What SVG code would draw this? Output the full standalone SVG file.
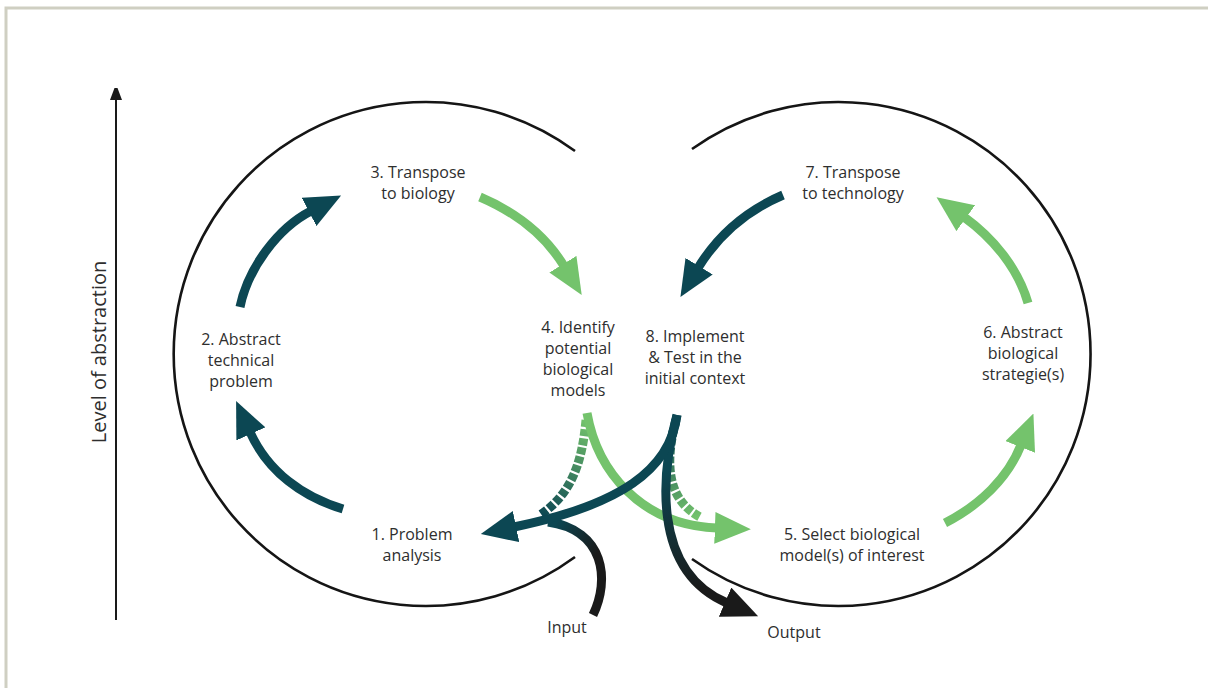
<svg xmlns="http://www.w3.org/2000/svg" width="1208" height="688" viewBox="0 0 1208 688">
<style>
.lbl{font-family:"Open Sans","Liberation Sans",sans-serif;font-size:16px;fill:#2e2e2e;text-anchor:middle}
.ring{fill:none;stroke:#151515;stroke-width:2.6}
.fl{fill:none;stroke-width:9;stroke-linecap:butt}
.teal{stroke:#0c4753}
.green{stroke:#74c36c}
.dash{stroke-dasharray:7 2.2}
</style>
<defs>
<marker id="hTeal" markerUnits="userSpaceOnUse" markerWidth="36" markerHeight="32" viewBox="0 0 34 30" refX="2" refY="15" orient="auto"><path d="M0,0 L34,15 L0,30 Z" fill="#0c4753"/></marker>
<marker id="hGreen" markerUnits="userSpaceOnUse" markerWidth="36" markerHeight="32" viewBox="0 0 34 30" refX="2" refY="15" orient="auto"><path d="M0,0 L34,15 L0,30 Z" fill="#74c36c"/></marker>
<marker id="hBlack" markerUnits="userSpaceOnUse" markerWidth="36" markerHeight="32" viewBox="0 0 34 30" refX="2" refY="15" orient="auto"><path d="M0,0 L34,15 L0,30 Z" fill="#1a1a1a"/></marker>
<marker id="hAxis" markerUnits="userSpaceOnUse" markerWidth="12" markerHeight="18" viewBox="0 0 12 18" refX="2" refY="6" orient="auto"><path d="M0,0 L16,6 L0,12 Z" fill="#1a1a1a"/></marker>
<linearGradient id="gD41" gradientUnits="userSpaceOnUse" x1="586" y1="420" x2="542" y2="515"><stop offset="0" stop-color="#74c36c"/><stop offset="1" stop-color="#0c4753"/></linearGradient>
<linearGradient id="gD85" gradientUnits="userSpaceOnUse" x1="676" y1="420" x2="700" y2="517"><stop offset="0" stop-color="#0c4753"/><stop offset="1" stop-color="#74c36c"/></linearGradient>
<linearGradient id="gOut" gradientUnits="userSpaceOnUse" x1="665" y1="470" x2="700" y2="590"><stop offset="0" stop-color="#0c4753"/><stop offset="1" stop-color="#1a1a1a"/></linearGradient>
<linearGradient id="gIn" gradientUnits="userSpaceOnUse" x1="600" y1="548" x2="556" y2="522"><stop offset="0" stop-color="#1a1a1a"/><stop offset="1" stop-color="#0c4753"/></linearGradient>
</defs>
<rect x="6" y="8" width="1300" height="800" fill="#fff" stroke="#cfcfc2" stroke-width="3"/>
<g id="axis">
<line x1="116" y1="620" x2="116" y2="98" stroke="#1a1a1a" stroke-width="2" marker-end="url(#hAxis)"/>
<text class="lbl" style="font-size:20px" transform="translate(106,352) rotate(-90)">Level of abstraction</text>
</g>
<g id="rings">
<path class="ring" d="M575,151 A252,252 0 1 0 575,557"/>
<path class="ring" d="M692,149 A252,252 0 1 1 692,559"/>
</g>
<g id="connectors">
<path class="fl teal" d="M343,509 C303,497 268,472 250,432" marker-end="url(#hTeal)"/>
<path class="fl teal" d="M240,307 C248,268 278,228 311,211" marker-end="url(#hTeal)"/>
<path class="fl green" d="M480,197 C515,212 545,235 564,266" marker-end="url(#hGreen)"/>
<path class="fl teal" d="M783,195 C748,210 718,235 698,268" marker-end="url(#hTeal)"/>
<path class="fl green" d="M1028,303 C1018,268 993,238 964,217" marker-end="url(#hGreen)"/>
<path class="fl green" d="M945,523 C980,505 1008,478 1021,445" marker-end="url(#hGreen)"/>
<path class="fl dash" stroke="url(#gD41)" d="M586,420 C582,465 570,495 540,515"/>
<path class="fl green" d="M587,413 C597,470 640,525 717,528" marker-end="url(#hGreen)"/>
<path class="fl dash" stroke="url(#gD85)" d="M676,420 C664,465 668,500 700,517"/>
<path class="fl" stroke="url(#gOut)" d="M677,415 C662,470 650,570 727,603" marker-end="url(#hBlack)"/>
<path class="fl" stroke="url(#gIn)" d="M593,615 C610,580 605,530 548,522"/>
<path class="fl teal" d="M677,415 C670,470 620,505 514,527" marker-end="url(#hTeal)"/>
</g>
<g id="n1"><text class="lbl" x="412" y="540">1. Problem</text><text class="lbl" x="412" y="561">analysis</text></g>
<g id="n2"><text class="lbl" x="241" y="345">2. Abstract</text><text class="lbl" x="241" y="366">technical</text><text class="lbl" x="241" y="387">problem</text></g>
<g id="n3"><text class="lbl" x="418" y="178">3. Transpose</text><text class="lbl" x="418" y="199">to biology</text></g>
<g id="n4"><text class="lbl" x="578" y="333">4. Identify</text><text class="lbl" x="578" y="354">potential</text><text class="lbl" x="578" y="375">biological</text><text class="lbl" x="578" y="396">models</text></g>
<g id="n5"><text class="lbl" x="852" y="540">5. Select biological</text><text class="lbl" x="852" y="561">model(s) of interest</text></g>
<g id="n6"><text class="lbl" x="1023" y="338">6. Abstract</text><text class="lbl" x="1023" y="359">biological</text><text class="lbl" x="1023" y="380">strategie(s)</text></g>
<g id="n7"><text class="lbl" x="853" y="178">7. Transpose</text><text class="lbl" x="853" y="199">to technology</text></g>
<g id="n8"><text class="lbl" x="695" y="342">8. Implement</text><text class="lbl" x="695" y="363">&amp; Test in the</text><text class="lbl" x="695" y="384">initial context</text></g>
<g id="input"><text class="lbl" x="567" y="633">Input</text></g>
<g id="output"><text class="lbl" x="794" y="638">Output</text></g>
</svg>
